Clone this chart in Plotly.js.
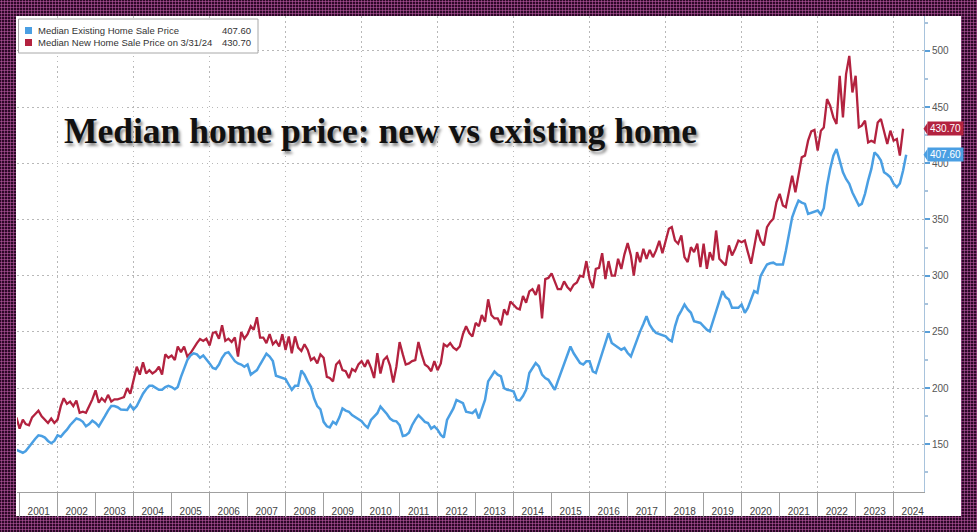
<!DOCTYPE html>
<html>
<head>
<meta charset="utf-8">
<script src="https://cdn.plot.ly/plotly-3.0.1.min.js"></script>
<style>
  html, body { margin: 0; padding: 0; }
  body {
    width: 977px; height: 532px; overflow: hidden;
    background-color: #2c0827;
    background-image: radial-gradient(circle, #a24c8e 0.9px, rgba(0,0,0,0) 1.2px);
    background-size: 3px 3px;
  }
  #chart { width: 977px; height: 532px; }
</style>
</head>
<body>
<div id="chart"></div>
<script>
// ---- Data (USD thousands), monthly, first value = Nov 2000 ----
const seriesStart = { year: 2000, month: 11 };

const existingName = "Median Existing Home Sale Price";
const existingPrice = [
  145, 144,                                                                    // 2000 Nov-Dec
  142.5, 144, 148, 151, 155, 158, 157.5, 156, 153, 151, 153, 158,              // 2001
  156.8, 160, 163, 167, 170, 173, 172, 170, 166, 168, 171, 169,                // 2002
  166, 170, 175, 180, 184, 184, 183, 181, 181, 180.6, 185, 181,                // 2003
  184, 190, 195, 199, 202, 202, 200, 198.5, 198.5, 201, 202, 201,              // 2004
  199, 201, 210, 217, 225, 229, 231, 230, 227, 229, 226, 222,                  // 2005
  218, 217, 221, 227, 231, 232, 228, 224, 222, 221, 219, 221,                  // 2006
  212, 214, 216, 221, 226, 230.6, 228, 224, 211, 210, 209, 208,                // 2007
  203, 198.5, 202, 202, 215.7, 212, 206, 201, 191, 184, 181, 170,              // 2008
  166, 165, 170, 168, 174, 182, 180, 179, 176, 174, 171.7, 170.5,              // 2009
  167, 164.8, 171.7, 175, 177.7, 183.6, 180.6, 177, 173, 171, 170.5, 167,      // 2010
  157.4, 158, 160.4, 167, 172, 176, 173, 170, 169, 164, 166, 163,              // 2011
  158.3, 156, 171.7, 177, 182, 189.5, 188, 186.6, 179, 178, 177.7, 180.6,      // 2012
  173, 181, 189.5, 206, 211, 214.8, 212, 210.4, 200, 198.5, 198, 197,          // 2013
  189.5, 189, 193, 198.5, 213.4, 218, 222.3, 219.3, 212, 209, 207.4, 203,      // 2014
  198.5, 206, 214, 222, 230, 237, 231, 226, 222.3, 221, 223.8, 223.8,          // 2015
  214.8, 213.4, 222, 231, 240, 249, 240.2, 238, 235.7, 234.2, 235.7, 231.2,    // 2016
  228.2, 235.7, 243, 250.5, 257, 263.9, 256.5, 252, 249.1, 248, 247.6, 246,    // 2017
  243.1, 241.6, 255, 263.9, 269, 274.4, 270, 267, 259.5, 259, 258, 255,        // 2018
  252, 250.5, 259.5, 270, 279, 286.3, 281, 278.8, 271.4, 271.4, 271.4, 274.4,  // 2019
  267, 271.4, 280, 286.3, 284.8, 299.6, 305, 310, 311, 311.6, 310, 310,        // 2020
  310, 322, 337, 352, 360, 366.8, 365, 363.9, 355, 356, 356.5, 358,            // 2021
  354.4, 360, 380, 395, 406.8, 412.7, 402.4, 392, 386, 381.7, 374, 368,        // 2022
  362.4, 363.9, 372.8, 384.6, 395, 409.7, 406.8, 402.4, 392, 390, 387.5, 381.7,// 2023
  378.7, 382, 393.5, 407.6                                                     // 2024 Jan-Apr
];

const newName = "Median New Home Sale Price on 3/31/24";
const newHomePrice = [
  174, 164,                                                                    // 2000 Nov-Dec
  172, 168, 167, 174, 177, 180, 175, 172, 169, 173, 169, 172,                  // 2001
  184, 191, 186, 188, 184, 189, 178, 179, 178, 184, 190, 198,                  // 2002
  187, 191, 188, 194, 188, 190, 190, 191, 192, 200, 195, 207,                  // 2003
  219, 212, 223, 213, 216, 213, 215, 219, 212, 230, 227, 229,                  // 2004
  225, 237, 232, 237, 228, 231, 236, 240, 243.7, 242, 244, 238,                // 2005
  249, 250, 244, 256, 242, 244, 241, 245, 228, 250, 244, 248,                  // 2006
  255, 252, 263, 245, 245, 240, 248, 239, 242, 237, 248, 234,                  // 2007
  246, 231, 246, 236, 233, 239, 234, 225, 227, 222, 230, 227,                  // 2008
  210, 209, 206, 221, 224, 216, 215, 209, 217, 215, 221, 224,                  // 2009
  219, 225, 218, 209, 231, 213, 225, 228, 220, 205, 219, 241,                  // 2010
  230, 221, 222, 224, 225, 241, 230, 221, 219, 215, 224, 216,                  // 2011
  222, 239, 237, 240, 236, 234, 237, 248, 255, 249, 246, 258,                  // 2012
  255, 265, 259, 279, 265, 262, 262, 256, 270, 265, 277, 274,                  // 2013
  271, 270, 282, 276, 286, 288, 283, 292, 262, 297, 298, 302,                  // 2014
  294, 288, 288, 295, 290, 287, 292, 294, 300, 299, 313, 297,                  // 2015
  289, 306, 307, 320, 297, 313, 300, 300, 315, 306, 319, 329,                  // 2016
  318, 300, 321, 312, 324, 315, 323, 316.5, 322.5, 331, 320, 331,              // 2017
  341.7, 343.2, 331.3, 328.4, 335.8, 316.5, 312.1, 325.4, 321, 328.4, 307.6, 328.4, // 2018
  306.2, 321, 313.6, 340.2, 315.1, 312.1, 309.2, 326.9, 318, 324, 331.3, 329.8,     // 2019
  331.3, 321, 310.7, 325.4, 340.8, 331.3, 326.9, 343.2, 347.6, 350.6, 365.3, 372.8, // 2020
  362.4, 360.9, 375.7, 389, 374.2, 390.5, 405.3, 406.8, 420.1, 428.4, 429.6, 411.2, // 2021
  429, 431.9, 457.1, 451.2, 440.8, 434.9, 477.8, 440.8, 479.3, 495.5, 463, 477.8,   // 2022
  431.9, 433.4, 437.9, 418.6, 420.1, 418.6, 436.3, 439.4, 427.5, 417.2, 429, 420.1, // 2023
  421.6, 406.8, 430.7                                                               // 2024 Jan-Mar
];

const yTickValues = [150, 200, 250, 300, 350, 400, 450, 500];
const titleText = "Median home price: new vs existing home";

// ---- Styling ----
const blue = "#4a9fe3";
const red = "#b3223f";
const gridColor = "#b8b8b8";
const gridDash = "1.5px,3.5px";

function monthEndDates(n) {
  const out = [];
  for (let i = 0; i < n; i++) {
    const d = new Date(Date.UTC(seriesStart.year, seriesStart.month - 1 + i + 1, 0));
    out.push(d.toISOString().slice(0, 10));
  }
  return out;
}
const existingDates = monthEndDates(existingPrice.length);
const newDates = monthEndDates(newHomePrice.length);

// plot-area geometry in pixels (for paper-coordinate placement of decorations)
const M = { l: 17, r: 53, t: 16, b: 40 };
const W = 977 - M.l - M.r, H = 532 - M.t - M.b;
const px = x => (x - M.l) / W;
const py = y => (M.t + H - y) / H;
const yRange = [107.6, 531];
const unitsPerPx = (yRange[1] - yRange[0]) / H;
const xRange = ["2000-12-06", "2024-10-18"];

const lastExisting = existingPrice[existingPrice.length - 1];
const lastNew = newHomePrice[newHomePrice.length - 1];

const traces = [
  { x: newDates, y: newHomePrice, type: "scatter", mode: "lines", name: newName,
    line: { color: red, width: 2.3 }, hoverinfo: "skip" },
  { x: existingDates, y: existingPrice, type: "scatter", mode: "lines", name: existingName,
    line: { color: blue, width: 2.5 }, hoverinfo: "skip" },
  { x: [], y: [], xaxis: "x2", type: "scatter", mode: "lines", showlegend: false, hoverinfo: "skip" }
];

const font = "Liberation Sans, Arial, sans-serif";

function pointer(val, color) {
  const d = 6 * unitsPerPx;
  return { type: "path", xref: "paper", yref: "y", layer: "above",
    path: `M ${px(923.5)} ${val} L ${px(927.5)} ${val + d} L ${px(927.5)} ${val - d} Z`,
    fillcolor: color, line: { width: 0 } };
}

const layout = {
  width: 977, height: 532,
  margin: M,
  paper_bgcolor: "rgba(0,0,0,0)",
  plot_bgcolor: "#ffffff",
  showlegend: false,
  font: { family: font, color: "#444" },
  xaxis: {
    type: "date", range: xRange,
    tick0: "2001-01-01", dtick: "M12", tickformat: "%Y", ticklabelmode: "period",
    ticks: "outside", ticklen: 24, tickwidth: 1, tickcolor: "#a0a0a0",
    ticklabelstandoff: -14,
    tickfont: { size: 10, color: "#444", family: font },
    showline: true, linecolor: "#a0a0a0", linewidth: 1,
    showgrid: false, zeroline: false, fixedrange: true
  },
  xaxis2: {
    type: "date", overlaying: "x", matches: "x", anchor: "y", side: "bottom",
    tick0: "2002-01-01", dtick: "M24",
    showgrid: true, gridcolor: gridColor, griddash: gridDash, gridwidth: 1,
    showticklabels: false, ticks: "", showline: false, zeroline: false
  },
  yaxis: {
    side: "right", range: yRange, tickvals: yTickValues,
    ticks: "outside", ticklen: 5, tickwidth: 2, tickcolor: "#5a9fd8",
    tickfont: { size: 10, color: "#555", family: font },
    showline: true, linecolor: "#a8c3dc", linewidth: 1,
    showgrid: true, gridcolor: gridColor, griddash: gridDash, gridwidth: 1,
    zeroline: false, fixedrange: true,
    minor: { dtick: 25, tick0: 0, ticks: "outside", ticklen: 3, tickcolor: "#a8c3dc", showgrid: false }
  },
  shapes: [
    // white panel behind the chart
    { type: "rect", xref: "paper", yref: "paper", layer: "below",
      x0: px(16), x1: px(961), y0: py(516), y1: py(16),
      fillcolor: "#ffffff", line: { width: 0 } },
    // legend box
    { type: "rect", xref: "paper", yref: "paper", layer: "above",
      x0: px(18.5), x1: px(258), y0: py(53), y1: py(19),
      fillcolor: "#ffffff", line: { color: "#a8a8a8", width: 1 } },
    { type: "rect", xref: "paper", yref: "paper", layer: "above",
      x0: px(25), x1: px(32), y0: py(34), y1: py(27),
      fillcolor: blue, line: { width: 0 } },
    { type: "rect", xref: "paper", yref: "paper", layer: "above",
      x0: px(25), x1: px(32), y0: py(46), y1: py(39),
      fillcolor: red, line: { width: 0 } },
    pointer(lastNew, red),
    pointer(lastExisting, blue)
  ],
  annotations: [
    { text: titleText, xref: "paper", yref: "paper", x: px(62), y: py(131),
      xanchor: "left", yanchor: "middle", showarrow: false,
      font: { family: "Liberation Serif, Times New Roman, serif", size: 35.5, weight: "bold", color: "#111",
              shadow: "2px 3px 3px rgba(0,0,0,0.45)" } },
    { text: existingName, xref: "paper", yref: "paper", x: px(36), y: py(30.5),
      xanchor: "left", yanchor: "middle", showarrow: false,
      font: { family: font, size: 9.5, color: "#333" } },
    { text: newName, xref: "paper", yref: "paper", x: px(36), y: py(42.5),
      xanchor: "left", yanchor: "middle", showarrow: false,
      font: { family: font, size: 9.5, color: "#333" } },
    { text: lastExisting.toFixed(2), xref: "paper", yref: "paper", x: px(253), y: py(30.5),
      xanchor: "right", yanchor: "middle", showarrow: false,
      font: { family: font, size: 9.5, color: "#333" } },
    { text: lastNew.toFixed(2), xref: "paper", yref: "paper", x: px(253), y: py(42.5),
      xanchor: "right", yanchor: "middle", showarrow: false,
      font: { family: font, size: 9.5, color: "#333" } },
    { text: lastNew.toFixed(2), xref: "paper", yref: "y", x: px(927), y: lastNew,
      xanchor: "left", yanchor: "middle", showarrow: false,
      bgcolor: red, borderpad: 1, width: 33,
      font: { family: font, size: 10, color: "#ffffff" } },
    { text: lastExisting.toFixed(2), xref: "paper", yref: "y", x: px(927), y: lastExisting,
      xanchor: "left", yanchor: "middle", showarrow: false,
      bgcolor: blue, borderpad: 1, width: 33,
      font: { family: font, size: 10, color: "#ffffff" } }
  ]
};

Plotly.newPlot("chart", traces, layout, { displayModeBar: false, staticPlot: true });
</script>
</body>
</html>
